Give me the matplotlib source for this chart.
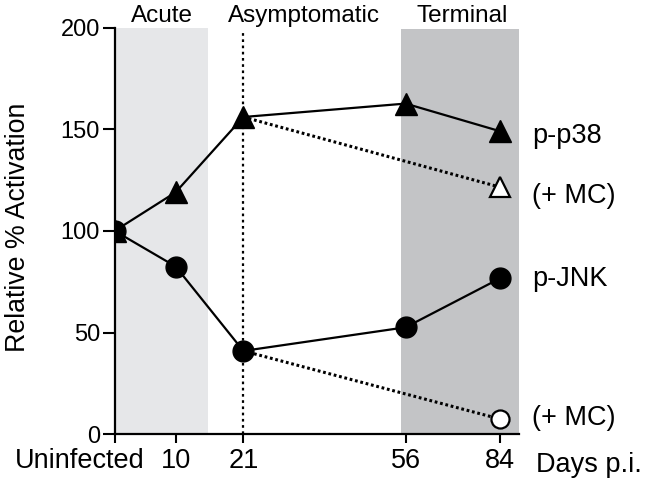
import matplotlib
matplotlib.use("Agg")
import matplotlib.pyplot as plt
from matplotlib.transforms import ScaledTranslation

plt.rcParams['font.family'] = ['Liberation Sans', 'DejaVu Sans']

# Data
x_labels = ["Uninfected", "10", "21", "56", "84"]
x_pos = [0, 1, 2.11, 4.77, 6.32]
p38 = [100, 119, 156, 162.6, 149]
p38_mc = [156, 121.5]
jnk = [100, 82.5, 41, 52.6, 76.7]
jnk_mc = [41, 7.5]
phase_labels = ["Acute", "Asymptomatic", "Terminal"]
y_ticks = [0, 50, 100, 150, 200]

fig = plt.figure(figsize=(6.49, 4.87), dpi=100)
ax = fig.add_axes([0.1767, 0.1082, 0.7997 - 0.1767, 0.9435 - 0.1082])
xmax = 6.63
ax.set_xlim(0, xmax)
ax.set_ylim(0, 200)

# shaded phases
ax.axvspan(0, 1.525, ymin=0, ymax=1.0, color='#e6e7e9', lw=0, zorder=0)
ax.axvspan(4.70, xmax, ymin=0, ymax=0.997, color='#c3c4c6', lw=0, zorder=0)
ax.plot([x_pos[2], x_pos[2]], [0, 198], color='black', lw=1.6, ls=(0, (1.2, 1.6)), zorder=1)

lw = 1.6
ax.plot(x_pos[2::2], p38_mc, color='black', lw=2.2, ls=(0, (0.9, 0.9)), zorder=2)
ax.plot(x_pos[2::2], jnk_mc, color='black', lw=2.2, ls=(0, (0.9, 0.9)), zorder=2)
ax.plot(x_pos, p38, color='black', lw=lw, marker='^', ms=15.5, zorder=3)
ax.plot(x_pos, jnk, color='black', lw=lw, marker='o', ms=15, zorder=4)
ax.plot(x_pos[4], p38_mc[1], marker='^', ms=15, mfc='white', mec='black', mew=1.6, zorder=5)
ax.plot(x_pos[4], jnk_mc[1], marker='o', ms=13, mfc='white', mec='black', mew=1.6, zorder=5)

ax.set_xticks(x_pos)
ax.set_xticklabels(x_labels, fontsize=19.5)
ax.set_yticks(y_ticks)
ax.set_yticklabels([str(v) for v in y_ticks], fontsize=17)
ax.tick_params(axis='x', direction='out', length=6.5, width=1.5, pad=3)
ax.tick_params(axis='y', direction='out', length=8.5, width=1.5, pad=2)
for s in ['top', 'right']:
    ax.spines[s].set_visible(False)
for s in ['left', 'bottom']:
    ax.spines[s].set_linewidth(1.6)

# shift "Uninfected" label left
lab0 = ax.get_xticklabels()[0]
lab0.set_transform(lab0.get_transform() + ScaledTranslation(-35 / 100, 0, fig.dpi_scale_trans))

fig.text(18 / 649, 1 - 227 / 487, "Relative % Activation", fontsize=19.3,
         rotation=90, ha='center', va='center')

# right-side labels (baseline positions in data units)
xt = x_pos[4] + 0.53
fsr = 19.5
ax.text(xt, 143.1, "p-p38", fontsize=fsr, va='baseline', ha='left', clip_on=False)
ax.text(xt, 113.9, "(+ MC)", fontsize=fsr, va='baseline', ha='left', clip_on=False)
ax.text(xt, 72.9, "p-JNK", fontsize=fsr, va='baseline', ha='left', clip_on=False)
ax.text(xt, 4.6, "(+ MC)", fontsize=fsr, va='baseline', ha='left', clip_on=False)

# phase labels
yb = 1 - 22 / 487
fig.text(162 / 649, yb, phase_labels[0], fontsize=17.5, ha='center', va='baseline')
fig.text(303.5 / 649, yb, phase_labels[1], fontsize=17.5, ha='center', va='baseline')
fig.text(462 / 649, yb, phase_labels[2], fontsize=17.5, ha='center', va='baseline')

# Days p.i.
fig.text(536 / 649, 1 - 472 / 487, "Days p.i.", fontsize=19.5, ha='left', va='baseline')

fig.savefig("out.png", dpi=100)
